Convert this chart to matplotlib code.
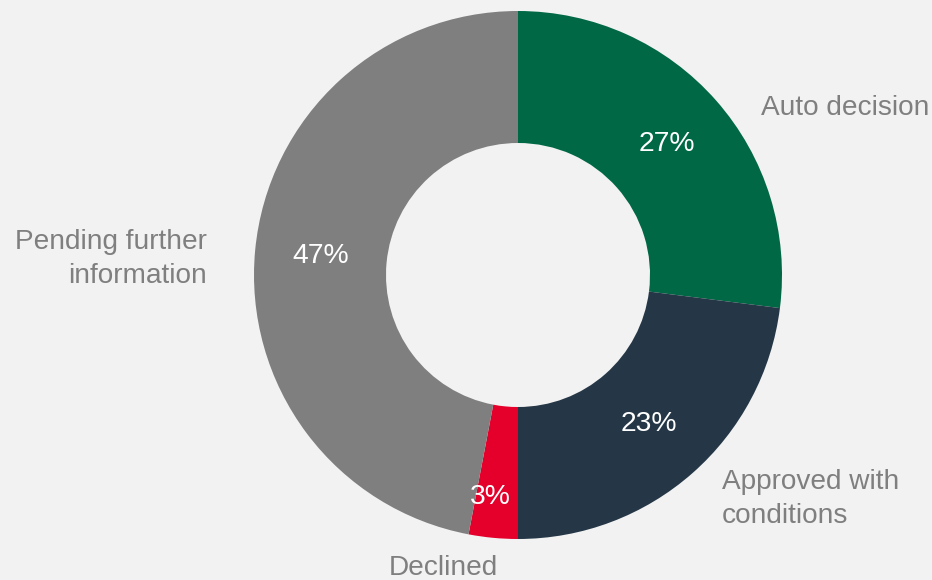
import matplotlib
matplotlib.use("Agg")
import matplotlib.pyplot as plt

categories = ["Auto decision", "Approved with\nconditions", "Declined", "Pending further\ninformation"]
values = [27, 23, 3, 47]
colors = ["#006844", "#253746", "#e4002b", "#7f7f7f"]

bg = "#f2f2f2"
W, H = 932, 580
fig = plt.figure(figsize=(W / 100, H / 100), dpi=100, facecolor=bg)
ax = fig.add_axes([0, 0, 1, 1])
ax.set_facecolor(bg)

cx, cy, R = 518, H - 275, 264
wedges, texts, autotexts = ax.pie(
    values, colors=colors, startangle=90, counterclock=False,
    center=(cx, cy), radius=R, autopct=lambda p: f"{p:.0f}%",
    pctdistance=0.75, wedgeprops=dict(width=R * 0.5, edgecolor="none"),
    textprops=dict(color="white", fontsize=20.3, family=["Liberation Sans", "DejaVu Sans"]),
    frame=True,
)
ax.set_xlim(0, W)
ax.set_ylim(0, H)
ax.set_aspect("equal")
ax.axis("off")

# small slice label sits a bit further out in the reference
autotexts[2].set_position((490, H - 497))

lab_kw = dict(color="#7f7f7f", fontsize=20.2, family=["Liberation Sans", "DejaVu Sans"], linespacing=1.4)
pos = [(761, H - 108, "left", "center"),
       (722, H - 499, "left", "center"),
       (443, H - 568, "center", "center"),
       (207, H - 259, "right", "center")]
for lab, (x, y, ha, va) in zip(categories, pos):
    ax.text(x, y, lab, ha=ha, va=va, multialignment=ha, **lab_kw)

fig.savefig("out.png", dpi=100, facecolor=bg)
